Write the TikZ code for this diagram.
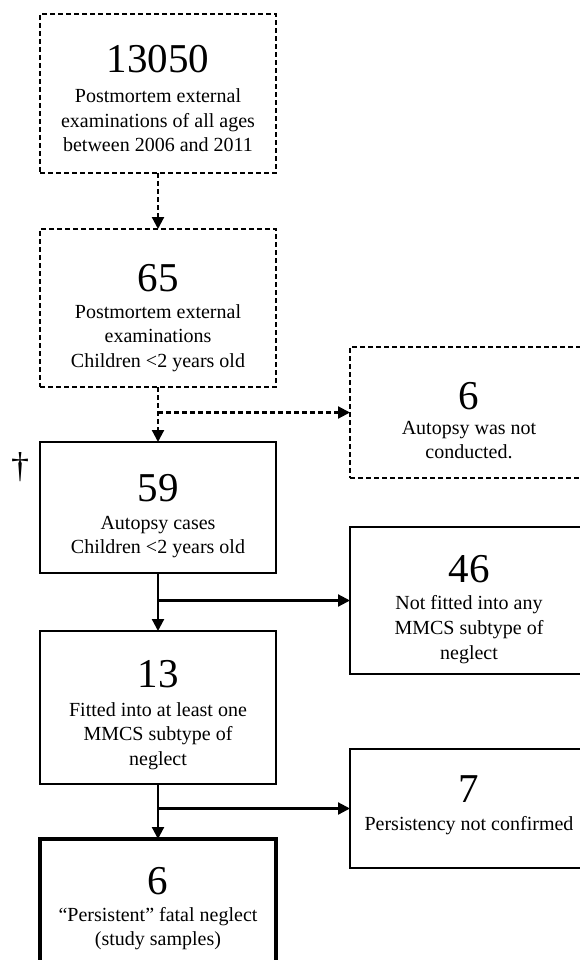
\documentclass[tikz,border=0pt]{standalone}
\usepackage{fontspec}
\setmainfont{Liberation Serif}
\usetikzlibrary{arrows.meta}
\begin{document}
\begin{tikzpicture}[x=1pt,y=-1pt,
  box/.style={draw, line width=2pt, minimum width=236pt, inner sep=0pt, outer sep=0pt},
  rbox/.style={box, minimum width=238pt},
  dashbox/.style={dash pattern=on 5pt off 3pt},
  thickbox/.style={line width=3.6pt},
  num/.style={anchor=base, font=\fontsize{41}{45}\selectfont, inner sep=0pt},
  txt/.style={anchor=base, font=\fontsize{20}{24}\selectfont, inner sep=0pt},
  conn/.style={line width=2.2pt, -{Triangle[length=12pt,width=12pt]}},
  dconn/.style={conn, dash pattern=on 5pt off 3pt}
]
\clip (0,0) rectangle (580,960);
\fill[white] (0,0) rectangle (580,960);

% boxes
\node[box, dashbox, minimum height=159pt] (b1) at (158,93.5) {};
\node[box, dashbox, minimum height=158pt] (b2) at (158,308) {};
\node[box, minimum height=131pt] (b3) at (158,507.5) {};
\node[box, minimum height=153pt] (b5) at (158,707.5) {};
\node[box, thickbox, minimum height=152pt] (b8) at (158,915) {};
\node[rbox, dashbox, minimum height=131pt] (b4) at (469,412.5) {};
\node[rbox, minimum height=147pt] (b6) at (469,600.5) {};
\node[rbox, minimum height=119pt] (b7) at (469,808.5) {};

% texts box 1
\node[num] (t1a) at (158,73) {13050};
\node[txt] (t1b) at (158,103) {Postmortem external};
\node[txt] (t1c) at (158,127.5) {examinations of all ages};
\node[txt] (t1d) at (158,152) {between 2006 and 2011};
% box 2
\node[num] (t2a) at (158,291) {65};
\node[txt] (t2b) at (158,318) {Postmortem external};
\node[txt] (t2c) at (158,342.5) {examinations};
\node[txt] (t2d) at (158,367) {Children <2 years old};
% box 4
\node[num] (t4a) at (469,409) {6};
\node[txt] (t4b) at (469,434.5) {Autopsy was not};
\node[txt] (t4c) at (469,458.5) {conducted.};
% box 3
\node[num] (t3a) at (158,501) {59};
\node[txt] (t3b) at (158,529.5) {Autopsy cases};
\node[txt] (t3c) at (158,553.5) {Children <2 years old};
% box 6
\node[num] (t6a) at (469,582) {46};
\node[txt] (t6b) at (469,609) {Not fitted into any};
\node[txt] (t6c) at (469,634) {MMCS subtype of};
\node[txt] (t6d) at (469,659) {neglect};
% box 5
\node[num] (t5a) at (158,687) {13};
\node[txt] (t5b) at (158,716) {Fitted into at least one};
\node[txt] (t5c) at (158,740) {MMCS subtype of};
\node[txt] (t5d) at (158,765) {neglect};
% box 7
\node[num] (t7a) at (469,802) {7};
\node[txt] (t7b) at (469,830) {Persistency not confirmed};
% box 8
\node[num] (t8a) at (158,894) {6};
\node[txt] (t8b) at (158,921) {“Persistent” fatal neglect};
\node[txt] (t8c) at (158,945) {(study samples)};

% dagger
\node[font=\fontsize{36}{36}\selectfont, inner sep=0pt] (dag) at (20,467) {†};

% connectors
\draw[dconn] (b1.south) -- (b2.north);
\coordinate (j1) at (b2.south |- b4.west);
\draw[dconn] (b2.south) -- (b3.north);
\draw[dconn] (j1) -- (b4.west);
\coordinate (j2) at (b3.south |- b6.west);
\draw[conn] (b3.south) -- (b5.north);
\draw[conn] (j2) -- (b6.west);
\coordinate (j3) at (b5.south |- b7.west);
\draw[conn] (b5.south) -- (b8.north);
\draw[conn] (j3) -- (b7.west);
\end{tikzpicture}
\end{document}
